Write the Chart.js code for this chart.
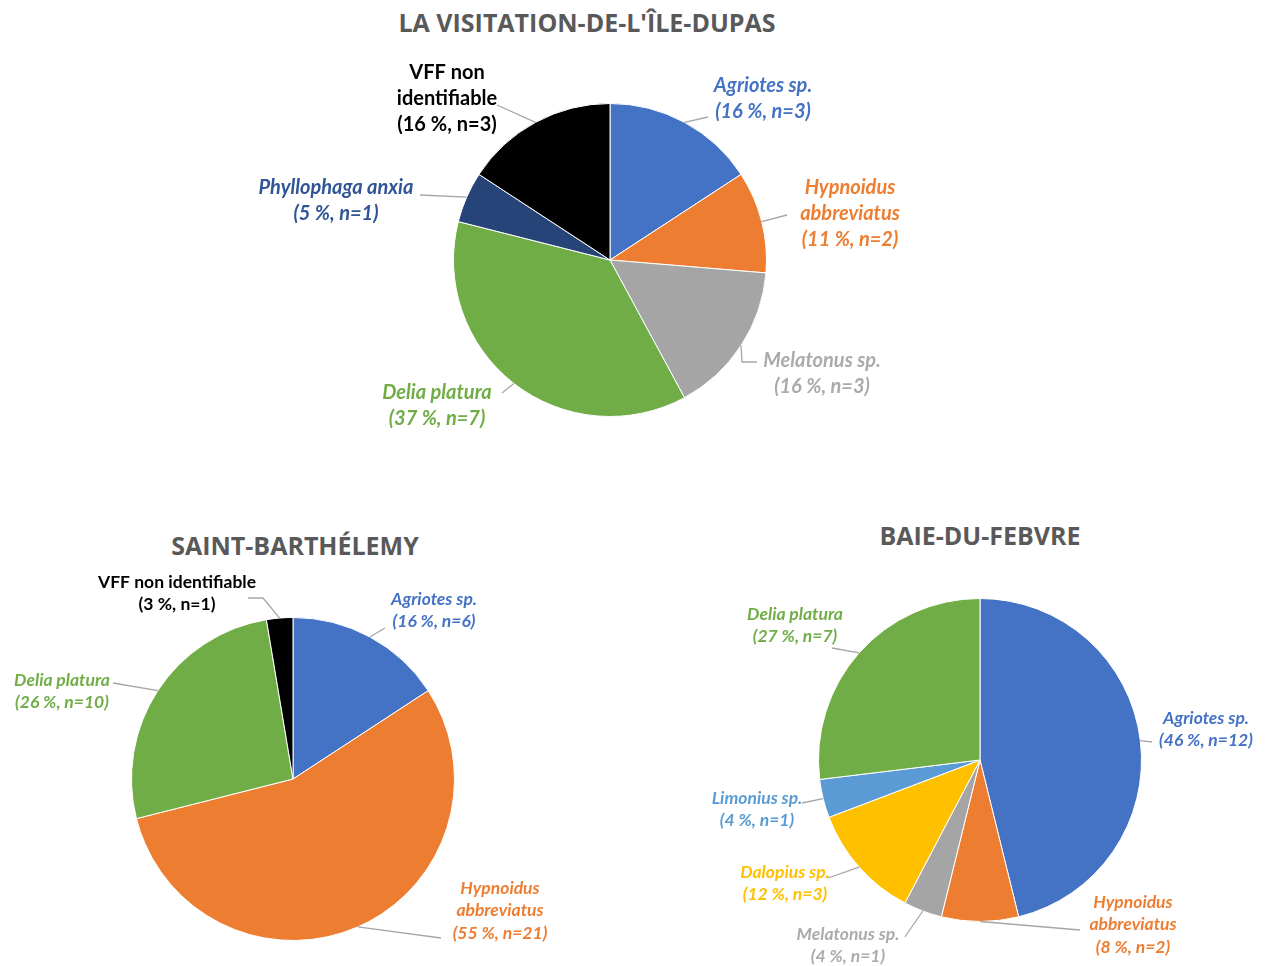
<!DOCTYPE html>
<html>
<head>
<meta charset="utf-8">
<script src="https://cdn.jsdelivr.net/npm/chart.js@4/dist/chart.umd.min.js"></script>
<style>
  html, body { margin: 0; padding: 0; background: #ffffff; }
  body { width: 1265px; height: 966px; position: relative; overflow: hidden; font-family: Lato, "Open Sans", sans-serif; }
  .box { position: absolute; }
  .title { position: absolute; font-family: "Open Sans", Lato, sans-serif; font-weight: bold; color: #595959; font-size: 25px; white-space: nowrap; transform: translate(-50%, -50%); }
</style>
</head>
<body>
<div class="title" style="left:587px; top:22px;">LA VISITATION-DE-L'ÎLE-DUPAS</div>
<div class="title" style="left:295px; top:545px;">SAINT-BARTHÉLEMY</div>
<div class="title" style="left:980px; top:535px;">BAIE-DU-FEBVRE</div>

<div class="box" id="b1" style="left:200px; top:50px; width:820px; height:420px;"><canvas id="c1"></canvas></div>
<div class="box" id="b2" style="left:0px; top:560px; width:632px; height:406px;"><canvas id="c2"></canvas></div>
<div class="box" id="b3" style="left:640px; top:560px; width:625px; height:406px;"><canvas id="c3"></canvas></div>

<script>
// ---------- DATA ----------
const visitationNames = [["Agriotes sp."], ["Hypnoidus", "abbreviatus"], ["Melatonus sp."], ["Delia platura"], ["Phyllophaga anxia"], ["VFF non", "identifiable"]];
const visitationCounts = [3, 2, 3, 7, 1, 3];
const visitationPercents = [16, 11, 16, 37, 5, 16];

const barthelemyNames = [["Agriotes sp."], ["Hypnoidus", "abbreviatus"], ["Delia platura"], ["VFF non identifiable"]];
const barthelemyCounts = [6, 21, 10, 1];
const barthelemyPercents = [16, 55, 26, 3];

const febvreNames = [["Agriotes sp."], ["Hypnoidus", "abbreviatus"], ["Melatonus sp."], ["Dalopius sp."], ["Limonius sp."], ["Delia platura"]];
const febvreCounts = [12, 2, 1, 3, 1, 7];
const febvrePercents = [46, 8, 4, 12, 4, 27];

// ---------- STYLES ----------
const C = {
  agriotes: '#4472C4', hypnoidus: '#ED7D31', melatonus: '#A5A5A5', delia: '#70AD47',
  phyllophaga: '#264478', vff: '#000000', dalopius: '#FFC000', limonius: '#5B9BD5'
};
const T = {
  agriotes: '#4472C4', hypnoidus: '#ED7D31', melatonus: '#ABABAB', delia: '#70AD47',
  phyllophaga: '#2F5597', vff: '#000000', dalopius: '#FFC000', limonius: '#5B9BD5'
};

// label layout (offsets relative to pie centre)
const layout1 = [
  { text: [153, -174], line: [98, -143] },
  { text: [240, -72], line: [177, -45] },
  { text: [212, 101], elbow: [132, 102], line: [147, 102] },
  { text: [-173, 133], line: [-108, 133] },
  { text: [-274, -72], line: [-190, -65] },
  { text: [-163, -187], line: [-113, -155] }
];
const layout2 = [
  { text: [141, -180], line: [92, -151] },
  { text: [207, 109], line: [148, 159] },
  { text: [-231, -99], line: [-180, -96] },
  { text: [-116, -197], elbow: [-30, -181], line: [-45, -181] }
];
const layout3 = [
  { text: [226, -42], line: [172, -18] },
  { text: [153, 142], line: [100, 170] },
  { text: [-132, 174], line: [-75, 177] },
  { text: [-195, 112], line: [-152, 118] },
  { text: [-223, 38], line: [-178, 43] },
  { text: [-185, -146], line: [-148, -112] }
];

const calloutPlugin = {
  id: 'callouts',
  afterDatasetsDraw(chart, args, opts) {
    const ctx = chart.ctx;
    const meta = chart.getDatasetMeta(0);
    ctx.save();
    meta.data.forEach((arc, i) => {
      const p = arc.getProps(['x', 'y', 'startAngle', 'endAngle', 'outerRadius'], true);
      const mid = (p.startAngle + p.endAngle) / 2;
      const ax = p.x + Math.cos(mid) * p.outerRadius;
      const ay = p.y + Math.sin(mid) * p.outerRadius;
      const L = opts.layout[i];
      ctx.strokeStyle = '#A6A6A6';
      ctx.lineWidth = 1.3;
      ctx.beginPath();
      ctx.moveTo(ax, ay);
      if (L.elbow) ctx.lineTo(p.x + L.elbow[0], p.y + L.elbow[1]);
      ctx.lineTo(p.x + L.line[0], p.y + L.line[1]);
      ctx.stroke();

      const lines = opts.names[i].concat(['(' + opts.percents[i] + ' %, n=' + opts.counts[i] + ')']);
      const italic = !opts.plain[i];
      ctx.font = (italic ? 'italic ' : '') + 'bold ' + opts.fontSize + 'px Lato, "Open Sans", sans-serif';
      ctx.fillStyle = opts.textColors[i];
      ctx.textAlign = 'center';
      ctx.textBaseline = 'middle';
      lines.forEach((ln, k) => {
        ctx.fillText(ln, p.x + L.text[0], p.y + L.text[1] + k * opts.lineHeight);
      });
    });
    ctx.restore();
  }
};

function makePie(canvasId, counts, colors, padding, callouts) {
  return new Chart(document.getElementById(canvasId), {
    type: 'pie',
    data: {
      labels: callouts.names.map(n => n.join(' ')),
      datasets: [{ data: counts, backgroundColor: colors, borderColor: '#ffffff', borderWidth: 1 }]
    },
    options: {
      responsive: true,
      maintainAspectRatio: false,
      animation: false,
      layout: { padding: padding },
      plugins: {
        legend: { display: false },
        tooltip: { enabled: false },
        title: { display: false },
        callouts: callouts
      }
    },
    plugins: [calloutPlugin]
  });
}

makePie('c1', visitationCounts,
  [C.agriotes, C.hypnoidus, C.melatonus, C.delia, C.phyllophaga, C.vff],
  { left: 253, right: 253, top: 53, bottom: 53 },
  { names: visitationNames, counts: visitationCounts, percents: visitationPercents,
    textColors: [T.agriotes, T.hypnoidus, T.melatonus, T.delia, T.phyllophaga, T.vff],
    plain: [false, false, false, false, false, true],
    layout: layout1, fontSize: 20, lineHeight: 26 });

makePie('c2', barthelemyCounts,
  [C.agriotes, C.hypnoidus, C.delia, C.vff],
  { left: 131, right: 177, top: 57, bottom: 25 },
  { names: barthelemyNames, counts: barthelemyCounts, percents: barthelemyPercents,
    textColors: [T.agriotes, T.hypnoidus, T.delia, T.vff],
    plain: [false, false, false, true],
    layout: layout2, fontSize: 17.5, lineHeight: 22.5 });

makePie('c3', febvreCounts,
  [C.agriotes, C.hypnoidus, C.melatonus, C.dalopius, C.limonius, C.delia],
  { left: 178, right: 123, top: 38, bottom: 44 },
  { names: febvreNames, counts: febvreCounts, percents: febvrePercents,
    textColors: [T.agriotes, T.hypnoidus, T.melatonus, T.dalopius, T.limonius, T.delia],
    plain: [false, false, false, false, false, false],
    layout: layout3, fontSize: 17.5, lineHeight: 22.5 });
</script>
</body>
</html>
